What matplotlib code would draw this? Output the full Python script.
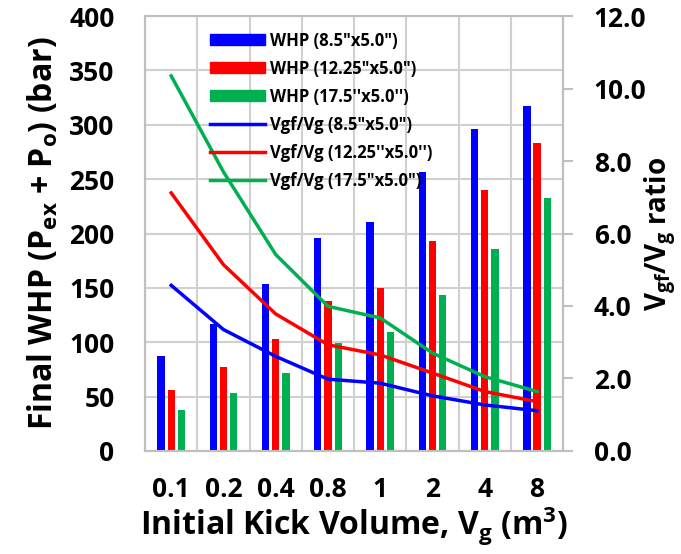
import numpy as np
import matplotlib.pyplot as plt
from matplotlib.patches import Patch
from matplotlib.lines import Line2D

plt.rcParams['font.family'] = ['Open Sans', 'DejaVu Sans']
plt.rcParams['font.weight'] = 'bold'
plt.rcParams['mathtext.fontset'] = 'custom'
plt.rcParams['mathtext.rm'] = 'Open Sans:bold'
plt.rcParams['mathtext.bf'] = 'Open Sans:bold'
plt.rcParams['mathtext.it'] = 'Open Sans:bold'
plt.rcParams['mathtext.default'] = 'bf'

# Data
volumes = ['0.1', '0.2', '0.4', '0.8', '1', '2', '4', '8']
whp_85 = [87, 117, 154, 196, 211, 257, 296, 317]
whp_1225 = [56, 77, 103, 138, 150, 193, 240, 283]
whp_175 = [38, 53, 72, 99, 109, 143, 186, 233]
ratio_85 = [4.57, 3.35, 2.61, 1.98, 1.87, 1.52, 1.27, 1.11]
ratio_1225 = [7.12, 5.14, 3.78, 2.93, 2.65, 2.15, 1.64, 1.36]
ratio_175 = [10.35, 7.7, 5.42, 3.99, 3.67, 2.70, 2.05, 1.64]

bar_labels = ['WHP (8.5"x5.0")', 'WHP (12.25"x5.0")', "WHP (17.5''x5.0'')"]
line_labels = ['Vgf/Vg (8.5"x5.0")', "Vgf/Vg (12.25''x5.0'')", 'Vgf/Vg (17.5"x5.0")']
colors = ['#0000ff', '#ff0000', '#00b050']
grid_color = '#d0d0d0'

fig = plt.figure(figsize=(6.81, 5.54), dpi=100)
ax = fig.add_axes([0.213, 0.186, 0.614, 0.785])
x = np.arange(len(volumes))

# Bars on left axis
width = 0.14
offsets = [-0.195, 0.0, 0.195]
for vals, off, c in zip([whp_85, whp_1225, whp_175], offsets, colors):
    ax.bar(x + off, vals, width=width, color=c, zorder=3)

ax.set_xlim(-0.5, len(volumes) - 0.5)
ax.set_ylim(0, 400)
ax.set_yticks(np.arange(0, 401, 50))
ax.set_xticks(x)
ax.set_xticklabels(volumes)
ax.set_xticks(np.arange(-0.5, len(volumes), 1.0), minor=True)
ax.grid(axis='y', which='major', color=grid_color, linewidth=1.5, zorder=0)
ax.grid(axis='x', which='minor', color=grid_color, linewidth=1.5, zorder=0)
ax.tick_params(axis='y', length=0, pad=22, labelsize=19)
ax.tick_params(axis='x', which='both', length=0, pad=18, labelsize=19)
for s in ax.spines.values():
    s.set_color('#bfbfbf')
    s.set_linewidth(1.5)
ax.set_axisbelow(True)
ax.set_ylabel('Final WHP (P$_{ex}$ + P$_{o}$) (bar)', fontsize=23, fontweight='bold', labelpad=6)
ax.set_xlabel('Initial Kick Volume, V$_{g}$ (m$^{3}$)', fontsize=23, fontweight='bold', labelpad=1)

# Lines on right axis
ax2 = ax.twinx()
for vals, c in zip([ratio_85, ratio_1225, ratio_175], colors):
    ax2.plot(x, vals, color=c, linewidth=2.5, zorder=4)
ax2.set_ylim(0, 12)
ax2.set_yticks(np.arange(0, 12.1, 2))
ax2.set_yticklabels([f'{v:.1f}' for v in np.arange(0, 12.1, 2)])
ax2.tick_params(axis='y', length=7, width=1.5, color='#bfbfbf', pad=15, labelsize=19)
for s in ax2.spines.values():
    s.set_color('#bfbfbf')
    s.set_linewidth(1.5)
ax2.set_ylabel('V$_{gf}$/V$_{g}$ ratio', fontsize=20, fontweight='bold', labelpad=-3)

handles = [Patch(color=c) for c in colors] + [Line2D([], [], color=c, linewidth=2.5) for c in colors]
leg = ax2.legend(handles, bar_labels + line_labels, loc='upper left',
                 bbox_to_anchor=(0.298, 0.955), bbox_transform=fig.transFigure,
                 frameon=False, fontsize=12, handlelength=3.3, handleheight=0.65,
                 labelspacing=0.6, handletextpad=0.3, borderaxespad=0)

fig.savefig('out.png', dpi=100)
